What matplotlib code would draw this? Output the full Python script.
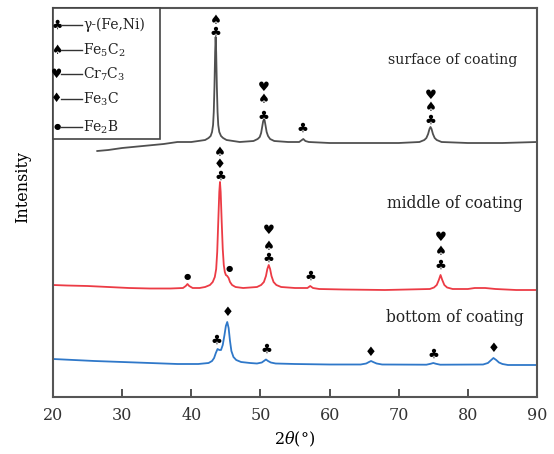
import matplotlib
matplotlib.use("Agg")
import matplotlib.pyplot as plt
from matplotlib.patches import Rectangle
from matplotlib.lines import Line2D

plt.rcParams['font.family'] = ['DejaVu Serif']
plt.rcParams['mathtext.fontset'] = 'dejavuserif'

# ---- data (2theta, intensity in arbitrary units, curves offset) ----
surface_x = [26.4, 28, 30, 33, 36, 38, 40, 42.0, 42.5, 42.8, 43.0, 43.15, 43.25, 43.35, 43.45,
             43.52, 43.6, 43.7, 43.8, 43.9, 44.05, 44.3, 44.6, 45.1, 47, 49.0, 49.6, 49.9,
             50.1, 50.25, 50.4, 50.5, 50.6, 50.75, 50.9, 51.1, 51.4, 52, 54, 55.6, 56.0, 56.2,
             56.5, 57, 60, 65, 70, 73.0, 73.7, 74.0, 74.25, 74.45, 74.6, 74.75, 74.95, 75.2,
             75.5, 76.2, 80, 85, 90]
surface_y = [246, 247, 249, 251, 253, 255, 255, 257, 259, 261, 265, 272, 285, 310, 345,
             360, 345, 310, 285, 272, 265, 261, 259, 257, 255, 256, 258, 260,
             264, 270, 276, 277, 277, 271, 265, 261, 258, 256, 255, 255, 257, 258,
             256, 255, 254, 254, 254, 255, 257, 259, 263, 268, 270, 268, 263, 259,
             257, 255, 254, 254, 255]

middle_x = [20, 22, 25, 28, 31, 34, 37, 38.8, 39.2, 39.45, 39.7, 40.2, 41.2, 42.0, 42.7, 43.1,
            43.4, 43.6, 43.75, 43.9, 44.05, 44.15, 44.25, 44.4, 44.55, 44.7, 44.85, 45.0,
            45.2, 45.4, 45.6, 45.9, 46.4, 47.5, 49.5, 50.1, 50.5, 50.8, 51.0, 51.2, 51.4,
            51.6, 51.9, 52.3, 53, 55, 56.8, 57.2, 57.6, 58.5, 62, 68, 74.5, 75.1, 75.5, 75.8,
            76.05, 76.3, 76.6, 77.0, 77.8, 80, 81, 82.5, 84, 87, 90]
middle_y = [112, 111.5, 111, 110, 109, 108.5, 108.5, 109, 111, 113, 111, 109, 109, 110, 112, 115,
            120, 128, 145, 175, 205, 215, 205, 175, 148, 132, 125, 122,
            121, 119, 115, 112, 110, 109, 110, 112, 115, 121, 128, 132, 128,
            121, 115, 112, 110, 109, 109, 111, 109, 108, 107.5, 107, 108, 109.5, 112, 117,
            122, 117, 112, 109.5, 108, 108, 109, 109, 108, 107, 107]

bottom_x = [20, 23, 26, 30, 34, 38, 41, 42.5, 43.0, 43.3, 43.55, 43.8, 44.05, 44.3, 44.55, 44.8,
            45.0, 45.2, 45.4, 45.6, 45.8, 46.1, 46.5, 47.2, 48.5, 49.5, 50.2, 50.5, 50.8,
            51.1, 51.5, 52.2, 55, 60, 64.5, 65.3, 65.7, 66.0, 66.3, 66.8, 67.6, 74.0, 74.6,
            75.0, 75.4, 76.0, 82.2, 82.9, 83.3, 83.7, 84.1, 84.5, 85.0, 85.8, 90]
bottom_y = [38, 37, 36, 35, 34, 33, 33, 34, 36, 39, 44, 48, 47, 47, 52, 62,
            71, 75, 69, 56, 46, 40, 37, 35, 34, 33.5, 34.5, 36, 37.5,
            36, 34.5, 33.5, 33, 32.5, 32.5, 33.5, 35, 36, 35, 33.5, 32.5, 32.3, 33.2,
            34, 33.2, 32.3, 32.5, 34, 36.5, 39, 37, 34.5, 33, 32, 32]

# phase marks: (2theta, height, phase)
CLUB, SPADE, HEART, DIAMOND, DOT = "♣", "♠", "♥", "♦", "●"
surface_marks = [(43.5, 365, CLUB), (43.5, 377, SPADE),
                 (50.5, 281, CLUB), (50.5, 298, SPADE), (50.5, 310, HEART),
                 (56.1, 269, CLUB),
                 (74.6, 277, CLUB), (74.6, 290, SPADE), (74.6, 302, HEART)]
middle_marks = [(44.15, 221, CLUB), (44.15, 233, DIAMOND), (44.15, 245, SPADE),
                (39.4, 120, DOT), (45.5, 129, DOT),
                (51.2, 139, CLUB), (51.2, 151, SPADE), (51.2, 167, HEART),
                (57.2, 121, CLUB),
                (76.05, 132, CLUB), (76.05, 146, SPADE), (76.05, 160, HEART)]
bottom_marks = [(43.7, 57, CLUB), (45.2, 84, DIAMOND), (50.8, 48, CLUB),
                (66.0, 45, DIAMOND), (75.0, 43, CLUB), (83.7, 48, DIAMOND)]

legend_symbols = [CLUB, SPADE, HEART, DIAMOND, DOT]
legend_labels = [r"γ-(Fe,Ni)", r"Fe$_5$C$_2$", r"Cr$_7$C$_3$", r"Fe$_3$C", r"Fe$_2$B"]

sample_labels = ["surface of coating", "middle of coating", "bottom of coating"]
sample_label_pos = [(87.1, 337), (88.0, 194), (88.1, 79)]
sample_label_size = [10.2, 11.2, 11.2]

xticks = [20, 30, 40, 50, 60, 70, 80, 90]

# ---- figure ----
fig = plt.figure(figsize=(5.54, 4.54), dpi=100)
ax = fig.add_axes([53/554, 1-397/454, (537-53)/554, (397-8)/454])

gray, red, blue = "#505050", "#ec3b45", "#2f78c9"
ax.plot(surface_x, surface_y, color=gray, lw=1.3)
ax.plot(middle_x, middle_y, color=red, lw=1.3)
ax.plot(bottom_x, bottom_y, color=blue, lw=1.3)

sym_kw = dict(family="DejaVu Sans", ha="center", va="center", color="black")
for marks in (surface_marks, middle_marks, bottom_marks):
    for x, y, s in marks:
        ax.text(x, y, s, fontsize=(6 if s == DOT else 9.5), **sym_kw)

for lab, (x, y), fs in zip(sample_labels, sample_label_pos, sample_label_size):
    ax.text(x, y, lab, ha="right", va="center", fontsize=fs, color="#222222")

ax.set_xlim(20, 90)
ax.set_ylim(0, 389)
ax.set_xticks(xticks)
ax.set_yticks([])
ax.tick_params(axis="x", direction="in", length=6, width=1.2, labelsize=11.5,
               pad=7, colors="#333333")
for sp in ax.spines.values():
    sp.set_color("#555555")
    sp.set_linewidth(1.5)

ax.set_xlabel(r"2$\theta$(°)", fontsize=11.5, labelpad=4)
ax.set_ylabel("Intensity", fontsize=11.5)
ax.yaxis.set_label_coords(-0.045, 0.54)

# ---- legend box (axes fraction coords) ----
W, H = 484.0, 389.0
def ax_xy(px, py):
    return ((px - 53) / W, (397 - py) / H)

x0, y0 = ax_xy(53, 139)
x1, y1 = ax_xy(160, 8)
ax.add_patch(Rectangle((x0, y0), x1 - x0, y1 - y0, transform=ax.transAxes,
                       facecolor="white", edgecolor="#444444", lw=1.2, zorder=5,
                       clip_on=False))
rows = [25, 50, 74, 99, 127]
for sym, lab, py in zip(legend_symbols, legend_labels, rows):
    sx, sy = ax_xy(57, py)
    ax.text(sx, sy, sym, transform=ax.transAxes, fontsize=(6 if sym == DOT else 9),
            zorder=6, **sym_kw)
    lx0, _ = ax_xy(61, py)
    lx1, _ = ax_xy(82, py)
    ax.add_line(Line2D([lx0, lx1], [sy, sy], transform=ax.transAxes, color="#333333",
                       lw=1.0, zorder=6))
    tx, _ = ax_xy(83, py)
    ax.text(tx, sy, lab, transform=ax.transAxes, ha="left", va="center", fontsize=10,
            zorder=6, color="#222222")

fig.savefig("out.png", dpi=100)
